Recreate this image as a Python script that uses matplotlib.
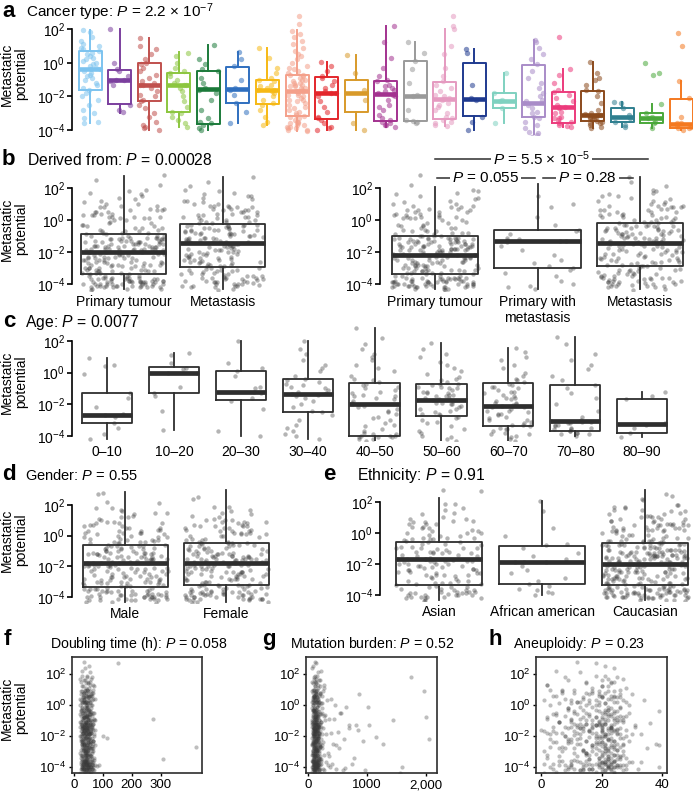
import numpy as np
import matplotlib
matplotlib.use("Agg")
import matplotlib.pyplot as plt
from matplotlib.ticker import NullLocator

plt.rcParams['font.family'] = ['Liberation Sans', 'DejaVu Sans']
plt.rcParams['mathtext.fontset'] = 'custom'
plt.rcParams['mathtext.rm'] = 'Liberation Sans'
plt.rcParams['mathtext.it'] = 'Liberation Sans:italic'
plt.rcParams['mathtext.bf'] = 'Liberation Sans:bold'

W, H = 693, 796

# ---------------- data: log10(metastatic potential) ----------------
CANCER_COLORS = ['#7cc3ef', '#7b3f9e', '#c0504d', '#8cc63f', '#1b7a3a', '#2f6fbf', '#f6b915',
                 '#f4a08a', '#e3262b', '#d89a2a', '#a3328f', '#9a9a9a', '#e59ac0', '#1f3a8f',
                 '#7fd1c0', '#a98cc8', '#ec3b7c', '#8b4a1c', '#2f7f8f', '#4aa83a', '#f47920']
# (whisker low, q1, median, q3, whisker high)
CANCER_BOX = [(-3.6, -1.62, -0.37, 0.69, 1.95), (-2.98, -2.45, -1.03, -0.43, 2.0),
              (-4.0, -2.27, -1.3, 0.0, 1.47), (-3.8, -2.9, -1.3, -0.6, 0.64),
              (-4.0, -3.64, -1.56, -0.5, 1.05), (-3.6, -2.4, -1.56, -0.25, 0.64),
              (-3.7, -2.45, -1.6, -1.0, 0.87), (-4.05, -3.16, -1.68, -0.73, 1.94),
              (-4.0, -3.34, -1.8, -0.85, 0.05), (-4.0, -2.93, -1.8, -1.03, 0.46),
              (-3.8, -3.45, -1.86, -1.1, 2.2), (-3.6, -3.45, -1.97, 0.1, 1.2),
              (-3.75, -3.34, -2.15, -1.14, 2.0), (-4.0, -3.16, -2.15, 0.0, 0.8),
              (-3.6, -2.7, -2.27, -1.8, -0.6), (-4.4, -3.22, -2.39, -0.14, 1.35),
              (-3.8, -3.57, -2.63, -1.74, -0.37), (-3.9, -3.45, -3.1, -1.68, 0.05),
              (-3.8, -3.5, -3.22, -2.7, -2.33), (-3.9, -3.6, -3.28, -2.98, -2.45),
              (-4.0, -3.9, -3.64, -2.15, -1.08)]
CANCER_POINTS = [
    [1.95, 1.8, 1.5, 1.3, 1.1, 1.0, 0.9, 0.8, 0.7, 0.6, 0.5, 0.4, 0.3, 0.2, 0.1, 0.0, -0.1, -0.2, -0.3, -0.35,
     -0.4, -0.5, -0.6, -0.7, -0.8, -0.9, -1.0, -1.2, -1.3, -1.5, -1.6, -1.8, -2.0, -2.2, -2.5, -2.8, -3.0, -3.3, -3.5, -3.6],
    [2.0, 0.0, -0.4, -0.5, -0.8, -1.0, -1.05, -1.1, -1.3, -2.5, -2.8, -2.95],
    [1.45, 1.0, 0.8, 0.5, 0.2, 0.0, -0.1, -0.3, -0.5, -0.7, -0.9, -1.1, -1.2, -1.3, -1.35, -1.5, -1.7, -1.9, -2.0, -2.2,
     -2.3, -2.5, -2.7, -3.0, -3.2, -3.5, -3.7, -3.8, -3.9, -4.0],
    [0.6, 0.4, 0.0, -0.3, -0.5, -0.6, -0.8, -1.0, -1.2, -1.3, -1.3, -1.5, -1.7, -2.0, -2.3, -2.6, -2.9, -3.0, -3.2, -3.4, -3.6, -3.8],
    [1.05, 0.2, -0.1, -0.4, -0.5, -0.9, -1.2, -1.5, -1.6, -1.8, -2.2, -2.8, -3.3, -3.5, -3.6, -3.7, -3.9, -4.0],
    [0.64, 0.2, -0.2, -1.0, -1.5, -1.6, -1.9, -2.4, -2.9, -3.6],
    [0.87, 0.3, -0.3, -0.6, -0.9, -1.0, -1.1, -1.3, -1.4, -1.5, -1.6, -1.6, -1.7, -1.8, -2.0, -2.2, -2.4, -2.5, -2.8, -3.2, -3.5, -3.7],
    [2.77, 2.3, 1.9, 1.7, 1.5, 1.3, 1.1, 0.9, 0.7, 0.5, 0.4, 0.2, 0.0, -0.2, -0.3, -0.4, -0.5, -0.6, -0.7, -0.75,
     -0.8, -0.9, -1.0, -1.0, -1.1, -1.2, -1.2, -1.3, -1.4, -1.4, -1.5, -1.5, -1.6, -1.65, -1.7, -1.7, -1.8, -1.9, -1.9, -2.0,
     -2.1, -2.2, -2.3, -2.4, -2.5, -2.6, -2.7, -2.8, -2.9, -3.0, -3.1, -3.15, -3.2, -3.3, -3.4, -3.5, -3.5, -3.6, -3.7, -3.7,
     -3.8, -3.8, -3.9, -3.9, -4.0, -4.0, -4.05, -3.6, -2.2, -1.3],
    [0.05, -0.2, -0.5, -0.8, -0.9, -1.1, -1.3, -1.5, -1.7, -1.8, -1.8, -2.0, -2.3, -2.6, -2.9, -3.2, -3.3, -3.4, -3.6, -3.8, -3.9, -4.0],
    [0.46, -0.6, -1.6, -2.2, -3.6, -4.0],
    [2.2, 1.2, 0.3, -0.3, -0.8, -1.0, -1.1, -1.3, -1.5, -1.6, -1.7, -1.8, -1.85, -1.9, -2.0, -2.2, -2.5, -2.8, -3.1, -3.3,
     -3.4, -3.5, -3.6, -3.7, -3.7, -3.8, -2.6, -1.4],
    [1.2, 0.6, 0.1, -0.4, -1.2, -1.9, -2.0, -2.8, -3.4, -3.45, -3.5, -3.6],
    [2.75, 2.2, 2.0, 1.0, 0.5, -0.3, -0.8, -1.1, -1.3, -1.5, -1.7, -1.9, -2.0, -2.1, -2.15, -2.2, -2.4, -2.6, -2.8, -3.0,
     -3.2, -3.3, -3.4, -3.5, -3.6, -3.7, -3.75, -2.5],
    [0.8, 0.6, -1.3, -2.1, -2.2, -3.2, -3.5, -4.0],
    [-0.6, -1.8, -2.2, -2.3, -2.7, -3.6],
    [1.35, 1.2, 0.9, 0.5, 0.2, -0.1, -0.5, -0.9, -1.2, -1.5, -1.8, -2.0, -2.2, -2.3, -2.4, -2.5, -2.7, -2.9, -3.0, -3.2,
     -3.3, -3.5, -3.7, -3.9, -4.1, -4.2, -4.3, -4.4],
    [1.5, -0.37, -0.7, -1.2, -1.6, -1.75, -1.9, -2.1, -2.3, -2.5, -2.6, -2.65, -2.7, -2.9, -3.0, -3.2, -3.3, -3.4, -3.5, -3.6,
     -3.7, -3.75, -3.8, -3.3],
    [0.05, -0.6, -0.9, -1.0, -1.3, -1.6, -1.7, -2.0, -2.4, -2.8, -3.0, -3.05, -3.1, -3.1, -3.15, -3.2, -3.2, -3.3, -3.3, -3.4,
     -3.45, -3.5, -3.6, -3.6, -3.7, -3.8, -3.9, -3.1],
    [-2.33, -2.4, -2.7, -3.1, -3.3, -3.5, -3.7, -3.8],
    [0.0, -0.6, -0.7, -2.45, -3.0, -3.2, -3.3, -3.5, -3.6, -3.9],
    [1.78, 1.0, -1.08, -2.1, -3.2, -3.6, -3.6, -3.7, -3.8, -3.9, -3.9, -4.0],
]

PRIMARY = [2.8, 2.5, 2.2, 1.9, 1.8, 1.6, 1.5, 1.4, 1.3, 1.2, 1.1, 1.0, 0.9, 0.9, 0.8, 0.7, 0.7, 0.6, 0.6, 0.5,
           0.5, 0.4, 0.4, 0.3, 0.3, 0.3, 0.2, 0.2, 0.2, 0.1, 0.1, 0.1, 0.0, 0.0, 1.7, 1.0, 0.8, 0.5, 0.2, 0.6,
           -0.1, -0.2, -0.2, -0.3, -0.3, -0.4, -0.4, -0.5, -0.5, -0.5, -0.6, -0.6, -0.7, -0.7, -0.7, -0.8, -0.8, -0.8, -0.9, -0.9,
           -1.0, -1.0, -1.1, -1.1, -1.1, -1.2, -1.2, -1.2, -1.3, -1.3, -1.3, -1.4, -1.4, -1.4, -1.5, -1.5, -1.5, -1.5, -1.6, -1.6,
           -1.6, -1.7, -1.7, -1.7, -1.8, -1.8, -1.8, -1.9, -1.9, -1.9, -2.0, -2.0, -1.0, -1.2, -1.4, -1.6, -1.8, -1.9, -1.1, -1.3,
           -1.5, -1.7, -1.9, -2.0, -1.0, -1.2, -1.4, -1.6, -1.8, -1.3, -1.5, -1.7, -1.9, -1.1, -1.4, -1.6, -1.8, -2.0, -1.2, -1.5,
           -2.1, -2.1, -2.2, -2.2, -2.3, -2.3, -2.4, -2.4, -2.5, -2.5, -2.6, -2.6, -2.7, -2.7, -2.8, -2.8, -2.9, -2.9, -3.0, -3.0,
           -3.1, -3.1, -3.2, -3.2, -3.3, -3.3, -3.4, -2.1, -2.3, -2.5, -2.7, -2.9, -3.1, -3.3, -2.2, -2.4, -2.6, -2.8, -3.0, -3.2,
           -2.1, -2.4, -2.7, -3.0, -3.3, -2.2, -2.5, -2.8, -3.1, -3.4, -2.3, -2.6, -2.9, -3.2, -2.0, -2.5, -3.0, -2.4, -2.8, -3.2,
           -3.5, -3.5, -3.6, -3.6, -3.6, -3.7, -3.7, -3.7, -3.7, -3.8, -3.8, -3.8, -3.8, -3.8, -3.9, -3.9, -3.9, -3.9, -3.9, -4.0,
           -4.0, -4.0, -4.0, -4.0, -4.0, -4.1, -4.1, -4.1, -4.1, -4.1, -4.2, -4.2, -4.2, -4.2, -4.3, -4.3, -4.4, -3.5, -3.6, -3.7,
           -3.8, -3.9, -4.0, -4.1, -4.2, -3.6, -3.8, -4.0, -4.2, -3.7, -3.9, -4.1, -3.5, -3.8, -4.0, -4.3, -3.6, -3.9, -4.1, -4.0]
METASTASIS = [2.7, 2.4, 2.1, 1.9, 1.8, 1.7, 1.6, 1.5, 1.4, 1.3, 1.2, 1.1, 1.0, 1.0, 0.9, 0.9, 0.8, 0.8, 0.7, 0.7,
              0.6, 0.6, 0.5, 0.5, 0.4, 0.4, 0.3, 0.3, 0.2, 0.2, 0.1, 0.1, 0.0, 0.0, -0.1, -0.1, -0.2, -0.2, 1.2, 0.8,
              0.5, 0.2, -0.1, 0.6, 0.3, 0.0, 1.5, 0.9,
              -0.3, -0.3, -0.4, -0.4, -0.5, -0.5, -0.6, -0.6, -0.7, -0.7, -0.8, -0.8, -0.9, -0.9, -1.0, -1.0, -1.1, -1.1, -1.2, -1.2,
              -1.3, -1.3, -1.4, -1.4, -0.3, -0.5, -0.7, -0.9, -1.1, -1.3, -0.4, -0.6, -0.8, -1.0, -1.2, -1.4, -0.35, -0.55, -0.75, -0.95,
              -1.15, -1.35, -0.45, -0.65, -0.85, -1.05, -1.25,
              -1.5, -1.5, -1.6, -1.6, -1.7, -1.7, -1.8, -1.8, -1.9, -1.9, -2.0, -2.0, -2.1, -2.1, -2.2, -2.2, -2.3, -2.3, -2.4, -2.4,
              -2.5, -2.5, -2.6, -2.6, -2.7, -2.7, -2.8, -2.8, -2.9, -2.9, -1.55, -1.75, -1.95, -2.15, -2.35, -2.55, -2.75, -1.65, -1.85, -2.05,
              -2.25, -2.45, -2.65, -2.85, -1.5, -2.0, -2.5,
              -3.0, -3.0, -3.1, -3.1, -3.2, -3.2, -3.3, -3.3, -3.4, -3.4, -3.5, -3.5, -3.6, -3.6, -3.7, -3.7, -3.8, -3.8, -3.9, -3.9,
              -4.0, -4.0, -4.1, -4.1, -4.2, -4.2, -4.3, -4.4, -3.05, -3.25, -3.45, -3.65, -3.85, -4.05, -3.15, -3.35, -3.55, -3.75, -3.95, -4.15,
              -3.6, -3.8, -4.0, -3.9, -4.1, -3.7, -4.0, -3.5]
PRIMARY_WITH_MET = [2.25, 1.5, 1.0, 0.8, 0.2, -0.3, -0.6, -0.7, -0.9, -1.1, -1.2, -1.25, -1.3, -1.3, -1.4,
                    -1.6, -1.9, -2.2, -2.5, -2.7, -2.9, -3.0, -3.1, -3.3, -3.5, -3.8, -4.0, -4.1, -4.2, -4.3]
AFRICAN_AMERICAN = [2.06, 1.4, 0.3, -0.2, -0.7, -0.8, -1.0, -1.3, -1.5, -1.7, -1.85, -1.9, -1.9, -2.1, -2.4, -2.6,
                    -2.9, -3.1, -3.3, -3.4, -3.6, -3.7, -3.8, -3.9, -4.0]

DERIVED_BOX = [(-4.3, -3.375, -2.0, -0.875, 2.75), (-4.3, -2.94, -1.44, -0.25, 2.7)]
DERIVED3_BOX = [(-4.3, -3.4, -2.19, -1.0, 2.06), (-4.3, -3.0, -1.3, -0.63, 2.25), (-4.3, -2.9, -1.44, -0.2, 2.7)]

AGE_LABELS = ['0\u201310', '10\u201320', '20\u201330', '30\u201340', '40\u201350', '50\u201360', '60\u201370', '70\u201380', '80\u201390']
AGE_BOX = [(-4.2, -3.2, -2.7, -1.3, 0.92), (-3.65, -1.3, -0.03, 0.35, 1.24), (-4.0, -1.75, -1.24, 0.1, 2.0),
           (-4.2, -2.5, -1.37, -0.4, 2.0), (-4.3, -4.0, -2.0, -0.67, 2.8), (-4.3, -2.76, -1.75, -0.73, 1.87),
           (-4.3, -3.4, -2.1, -0.67, 1.55), (-4.0, -3.7, -3.08, -0.8, 2.25), (-4.1, -3.8, -3.27, -1.68, -1.24)]
AGE_POINTS = [
    [0.92, 0.5, 0.4, -0.1, -1.3, -1.6, -2.2, -2.6, -2.7, -2.8, -3.2, -3.5, -3.9, -4.2],
    [1.24, 1.1, 0.6, 0.3, 0.25, 0.0, -0.05, -0.9, -1.3, -1.5, -2.4, -3.65],
    [2.0, 0.6, 0.3, 0.1, -0.2, -0.9, -1.0, -1.2, -1.3, -1.6, -1.8, -2.3, -3.7, -4.0],
    [2.0, 1.5, 1.2, 0.8, 0.5, 0.3, 0.1, -0.2, -0.4, -0.5, -0.6, -0.7, -0.8, -0.9, -1.0, -1.1, -1.2, -1.3, -1.35, -1.4,
     -1.5, -1.6, -1.8, -2.0, -2.2, -2.4, -2.5, -2.7, -3.0, -3.3, -3.5, -3.7, -3.9, -4.0, -4.2],
    [2.8, 2.2, 1.8, 1.5, 1.2, 1.0, 0.8, 0.5, 0.3, 0.1, -0.2, -0.4, -0.6, -0.7, -0.8, -0.9, -1.0, -1.1, -1.2, -1.3,
     -1.4, -1.5, -1.6, -1.7, -1.8, -1.9, -2.0, -2.1, -2.2, -2.3, -2.4, -2.6, -2.8, -3.0, -3.2, -3.4, -3.6, -3.8, -3.9, -4.0,
     -4.0, -4.1, -4.1, -4.2, -4.2, -4.3, -3.7, -3.3, -2.9, -1.5, -0.5, -3.9, -4.0, -4.1, -2.5],
    [1.87, 1.5, 1.2, 1.0, 0.7, 0.5, 0.3, 0.1, -0.1, -0.3, -0.5, -0.6, -0.7, -0.75, -0.8, -0.9, -1.0, -1.0, -1.1, -1.2,
     -1.2, -1.3, -1.4, -1.4, -1.5, -1.6, -1.6, -1.7, -1.75, -1.8, -1.9, -2.0, -2.0, -2.1, -2.2, -2.3, -2.4, -2.5, -2.6, -2.7,
     -2.8, -2.9, -3.0, -3.2, -3.4, -3.6, -3.8, -4.0, -4.1, -4.2, -4.3, -1.3, -0.9, -2.3, -1.5, -3.1, -3.7, -0.4, -2.6, -1.9],
    [1.55, 1.3, 1.0, 0.8, 0.5, 0.3, 0.0, -0.2, -0.4, -0.6, -0.7, -0.8, -0.9, -1.0, -1.1, -1.2, -1.3, -1.4, -1.5, -1.6,
     -1.7, -1.8, -1.9, -2.0, -2.05, -2.1, -2.2, -2.3, -2.4, -2.5, -2.6, -2.7, -2.8, -2.9, -3.0, -3.1, -3.2, -3.3, -3.4, -3.5,
     -3.6, -3.7, -3.8, -3.9, -4.0, -4.1, -4.2, -4.3, -1.2, -1.6, -2.4, -3.0, -3.6, -0.5, -1.9, -2.6, -3.3, -3.9, -0.9, -2.2],
    [2.25, 1.8, 1.2, 0.8, 0.5, 0.2, -0.2, -0.5, -0.8, -1.0, -1.3, -1.6, -2.0, -2.4, -2.8, -3.0, -3.05, -3.1, -3.15, -3.2,
     -3.3, -3.3, -3.4, -3.5, -3.5, -3.6, -3.6, -3.7, -3.7, -3.8, -3.8, -3.9, -3.9, -4.0, -3.2],
    [-1.24, -1.5, -1.7, -3.2, -3.3, -3.5, -3.8, -4.1],
]

GENDER_BOX = [(-4.3, -3.34, -1.78, -0.6, 2.85), (-4.3, -3.2, -1.78, -0.5, 2.95)]
ETHNIC_BOX = [(-4.3, -3.35, -1.7, -0.6, 2.26), (-4.0, -3.3, -1.87, -0.84, 2.06), (-4.3, -3.35, -2.0, -0.65, 2.8)]

DOUBLING_TIME = [
    34, 52, 27, 45, 61, 38, 23, 49, 56, 31, 42, 67, 29, 47, 36, 58, 25, 44, 53, 33,
    40, 71, 22, 48, 35, 63, 30, 55, 41, 26, 50, 37, 59, 44, 21, 46, 65, 32, 39, 54,
    28, 43, 60, 35, 24, 51, 47, 69, 33, 38, 57, 20, 45, 62, 30, 42, 36, 53, 26, 48,
    74, 31, 40, 56, 23, 44, 37, 66, 29, 52, 41, 34, 58, 19, 47, 39, 63, 27, 50, 43,
    35, 60, 25, 46, 32, 55, 42, 70, 28, 38, 49, 22, 57, 36, 44, 64, 30, 51, 40, 33,
    45, 27, 53, 39, 68, 24, 48, 35, 59, 41, 31, 54, 46, 21, 62, 37, 43, 29, 56, 34,
    115, 42, 30, 51, 38, 64, 26, 47, 55, 33, 40, 72, 28, 45, 36, 58, 23, 49, 41, 61,
    37, 53, 24, 44, 60, 32, 46, 39, 67, 29, 50, 35, 42, 57, 25, 48, 34, 63, 38, 45,
    54, 30, 41, 65, 27, 47, 36, 52, 22, 43, 59, 33, 48, 39, 70, 26, 45, 56, 31, 40,
    309, 46, 35, 58, 28, 42, 63, 37, 49, 24, 53, 40, 32, 61, 44, 27, 51, 38, 66, 34,
    43, 57, 29, 48, 36, 62, 25, 45, 54, 33, 41, 68, 30, 50, 39, 59, 22, 47, 37, 55,
    31, 46, 64, 27, 52, 40, 35, 58, 44, 23, 49, 36, 61, 42, 29, 54, 38, 71, 33, 47,
    153, 39, 55, 26, 44, 60, 34, 48, 41, 67, 28, 52, 37, 45, 57, 24, 43, 63, 32, 50,
    40, 59, 30, 47, 36, 65, 25, 53, 42, 34, 56, 46, 21, 61, 38, 49, 29, 44, 69, 35,
    52, 28, 45, 62, 33, 41, 57, 37, 48, 26, 54, 39, 66, 31, 46, 58, 43, 24, 50, 36,
    272, 44, 60, 32, 49, 38, 55, 27, 47, 63, 35, 42, 53, 29, 45, 68, 40, 57, 23, 51,
    37, 48, 65, 30, 43, 56, 34, 50, 41, 26, 59, 45, 33, 62, 39, 52, 28, 46, 72, 36,
    47, 31, 58, 40, 53, 25, 44, 61, 35, 49, 38, 67, 29, 55, 42, 33, 64, 46, 27, 51,
    422, 39, 56, 43, 32, 60, 48, 36, 52, 24, 45, 66, 34, 57, 41, 29, 50, 63, 38, 44,
    101, 54, 30, 47, 62, 37, 43, 27, 58, 49, 35, 69, 40, 55, 31, 46, 64, 33, 51, 42,
    85, 36, 59, 45, 28, 52, 41, 65, 34, 48, 38, 57, 25, 44, 61, 32, 50, 39, 70, 46,
    78, 43, 33, 56, 47, 30, 63, 40, 53, 26, 45, 58, 35, 49, 42, 67, 31, 54, 37, 48]
MUTATION_BURDEN = [
    120, 85, 210, 150, 95, 180, 70, 135, 260, 110, 160, 90, 1980, 140, 75, 195, 125, 100, 230, 155,
    105, 170, 80, 145, 320, 115, 190, 65, 130, 215, 98, 165, 88, 450, 138, 72, 205, 118, 175, 92,
    150, 60, 240, 128, 102, 185, 78, 560, 142, 112, 198, 84, 156, 122, 270, 96, 168, 74, 134, 108,
    1450, 178, 90, 146, 220, 116, 82, 160, 126, 700, 100, 188, 70, 136, 250, 110, 172, 94, 152, 120,
    86, 200, 132, 104, 380, 164, 76, 144, 114, 230, 92, 176, 124, 66, 158, 850, 138, 98, 210, 118,
    148, 80, 182, 106, 290, 130, 88, 166, 120, 1040, 96, 154, 72, 140, 224, 112, 190, 84, 134, 102,
    162, 94, 2060, 128, 78, 174, 116, 246, 100, 150, 68, 136, 196, 108, 520, 90, 160, 124, 82, 142,
    110, 186, 74, 152, 350, 118, 98, 170, 132, 64, 208, 144, 86, 126, 610, 104, 180, 92, 138, 260,
    122, 76, 158, 112, 194, 96, 1280, 140, 84, 168, 106, 234, 130, 70, 150, 420, 118, 188, 100, 146,
    90, 176, 128, 62, 216, 114, 154, 80, 300, 136, 104, 182, 94, 740, 126, 72, 162, 110, 204, 148,
    1600, 120, 88, 172, 134, 98, 244, 116, 78, 156, 960, 108, 190, 92, 142, 68, 200, 130, 86, 164,
    112, 340, 150, 102, 184, 76, 138, 124, 590, 96, 166, 114, 82, 222, 132, 106, 176, 90, 480, 146,
    128, 70, 158, 118, 1750, 100, 194, 136, 84, 174, 110, 270, 94, 152, 126, 66, 206, 120, 870, 140,
    104, 186, 80, 148, 116, 390, 96, 162, 132, 74, 228, 112, 170, 88, 144, 650, 122, 100, 196, 134,
    92, 154, 1020, 126, 72, 180, 108, 250, 138, 86, 160, 118, 540, 98, 212, 130, 78, 168, 114, 146,
    120, 360, 94, 178, 132, 64, 156, 110, 820, 100, 190, 142, 82, 226, 124, 440, 106, 166, 90, 138,
    116, 70, 202, 146, 98, 170, 2000, 128, 88, 160, 112, 280, 134, 76, 184, 104, 690, 150, 94, 122,
    140, 84, 176, 118, 310, 102, 158, 130, 68, 214, 144, 96, 940, 124, 164, 80, 192, 108, 470, 136,
    100, 182, 126, 74, 154, 114, 500, 92, 170, 138, 86, 236, 120, 104, 1150, 148, 78, 198, 130, 96,
    162, 110, 88, 186, 142, 330, 118, 72, 158, 106, 780, 134, 94, 208, 124, 82, 174, 112, 400, 150,
    98, 166, 132, 66, 196, 116, 260, 140, 90, 1560, 128, 104, 180, 76, 152, 630, 120, 92, 172, 136,
    108, 80, 154, 126, 370, 100, 188, 144, 86, 220, 118, 96, 430, 134, 70, 164, 112, 1000, 148, 102]
ANEUPLOIDY = [
    12, 21, 5, 18, 25, 9, 23, 15, 2, 20, 28, 7, 17, 22, 11, 26, 19, 4, 24, 14,
    20, 8, 23, 16, 27, 1, 19, 13, 25, 10, 21, 6, 18, 29, 22, 3, 15, 24, 12, 20,
    17, 26, 9, 22, 14, 39, 19, 5, 24, 11, 21, 16, 28, 8, 23, 18, 2, 25, 13, 20,
    22, 10, 19, 27, 6, 21, 15, 24, 12, 18, 31, 4, 23, 17, 9, 26, 20, 14, 22, 0,
    16, 24, 11, 20, 7, 25, 18, 13, 22, 3, 19, 28, 15, 21, 10, 23, 17, 33, 6, 20,
    23, 14, 21, 8, 26, 19, 12, 24, 2, 18, 22, 16, 30, 10, 20, 25, 5, 21, 17, 13,
    19, 27, 9, 22, 15, 24, 4, 20, 38, 12, 23, 17, 26, 7, 21, 18, 14, 25, 1, 22,
    11, 21, 24, 16, 6, 20, 28, 13, 23, 19, 3, 25, 15, 22, 10, 18, 27, 8, 21, 24,
    20, 5, 23, 17, 26, 12, 21, 35, 15, 19, 9, 24, 22, 2, 18, 25, 14, 20, 11, 27,
    25, 16, 7, 22, 19, 13, 24, 29, 20, 4, 23, 18, 10, 21, 26, 15, 6, 22, 17, 24,
    14, 22, 19, 3, 25, 20, 11, 23, 16, 32, 8, 21, 27, 13, 24, 18, 1, 22, 15, 20,
    21, 10, 26, 17, 23, 6, 19, 24, 14, 21, 28, 9, 22, 16, 39, 20, 12, 25, 4, 23,
    18, 24, 13, 21, 8, 27, 20, 15, 23, 2, 22, 17, 26, 11, 19, 24, 7, 21, 30, 16,
    23, 5, 20, 25, 14, 22, 18, 10, 24, 28, 16, 21, 3, 19, 26, 13, 23, 9, 20, 17,
    26, 12, 22, 19, 34, 15, 24, 7, 21, 18, 25, 11, 20, 29, 4, 23, 16, 22, 14, 27,
    10, 21, 24, 17, 6, 25, 20, 13, 23, 19, 31, 8, 22, 15, 26, 2, 21, 18, 24, 12,
    20, 27, 15, 23, 9, 22, 18, 25, 36, 14, 21, 5, 24, 19, 11, 23, 17, 28, 20, 1,
    16, 23, 12, 21, 25, 8, 20, 18, 26, 3, 22, 15, 24, 10, 19, 27, 13, 21, 39, 17,
    24, 6, 22, 19, 14, 25, 20, 11, 23, 29, 17, 21, 4, 26, 16, 22, 9, 20, 24, 13,
    21, 18, 27, 7, 23, 15, 20, 25, 12, 22, 2, 19, 26, 16, 24, 10, 21, 30, 14, 23,
    19, 25, 10, 22, 17, 28, 13, 21, 5, 24, 20, 15, 23, 33, 8, 22, 18, 26, 11, 20,
    22, 14, 24, 1, 20, 27, 16, 23, 9, 21, 25, 12, 19, 35, 6, 22, 17, 24, 13, 21]

# all cell lines (same metastatic potential values reused by grouping)
ALL_LINES = PRIMARY + METASTASIS
MALE = ALL_LINES[0::2]
FEMALE = ALL_LINES[1::2]
ASIAN = ALL_LINES[0::3]
CAUCASIAN = ALL_LINES[1::3] + ALL_LINES[2::3]

GREY = '#3a3a3a'
BOXC = '#2e2e2e'
TITLE_FS = 11.3
rng = np.random.default_rng(11)  # horizontal jitter only

fig = plt.figure(figsize=(W / 100, H / 100), dpi=100)


def add_ax(x0, y0, x1, y1):
    return fig.add_axes([x0 / W, 1 - y1 / H, (x1 - x0) / W, (y1 - y0) / H])


def box_axes(ax, xlim, ylim):
    ax.set_facecolor('none')
    ax.set_yscale('log')
    ax.set_xlim(*xlim)
    ax.set_ylim(10 ** ylim[0], 10 ** ylim[1])
    for s in ['top', 'right', 'bottom']:
        ax.spines[s].set_visible(False)
    ax.spines['left'].set_bounds(1e-4, 1e2)
    ax.spines['left'].set_linewidth(1.2)
    ax.set_yticks([1e-4, 1e-2, 1, 1e2])
    ax.yaxis.set_minor_locator(NullLocator())
    ax.tick_params(axis='y', length=3.5, width=1.2, labelsize=10, pad=1.5)
    ax.tick_params(axis='x', length=0, labelsize=10, pad=3)


def draw_boxes(ax, stats, colors, width, box_lw, med_lw):
    for i, (st, c) in enumerate(zip(stats, colors)):
        lo, q1, med, q3, hi = st
        d = dict(whislo=10 ** lo, q1=10 ** q1, med=10 ** med, q3=10 ** q3, whishi=10 ** hi, fliers=[])
        ax.bxp([d], positions=[i + 1], widths=width, showcaps=False, showfliers=False,
               manage_ticks=False, zorder=2,
               boxprops=dict(color=c, linewidth=box_lw),
               whiskerprops=dict(color=c, linewidth=box_lw),
               medianprops=dict(color=c, linewidth=med_lw, solid_capstyle='butt'))


def draw_points(ax, groups, colors, half, size, alpha, z):
    for i, (vals, c) in enumerate(zip(groups, colors)):
        v = np.array(vals)
        x = i + 1 + rng.uniform(-half, half, len(v))
        ax.scatter(x, 10 ** v, s=size, color=c, alpha=alpha, linewidths=0, zorder=z)


def ylabel(y):
    fig.text(14 / W, 1 - y / H, 'Metastatic\npotential', rotation=90, ha='center', va='center',
             fontsize=10, linespacing=1.05)


def label(x, y, letter, title, tx=26, fs=TITLE_FS):
    fig.text(x / W, 1 - y / H, letter, fontsize=16, fontweight='bold', va='baseline')
    fig.text(tx / W, 1 - y / H, title, fontsize=fs, va='baseline')


# ---------------- a ----------------
ax = add_ax(72, 12, 693, 135)
box_axes(ax, (0.39, 21.39), (-4.29, 3.01))
draw_points(ax, CANCER_POINTS, CANCER_COLORS, 0.34, 15, 0.55, 3)
draw_boxes(ax, CANCER_BOX, CANCER_COLORS, 0.78, 1.4, 3.3)
ax.set_xticks([])
ylabel(74)
label(2, 17, 'a', r'Cancer type: $P$ = 2.2 $\times$ 10$^{-7}$', fs=11)

# ---------------- b ----------------
ax = add_ax(72, 170, 285, 291)
box_axes(ax, (0.48, 2.63), (-4.44, 3.125))
draw_points(ax, [PRIMARY, METASTASIS], [GREY] * 2, 0.42, 10, 0.38, 1)
draw_boxes(ax, DERIVED_BOX, [BOXC] * 2, 0.86, 1.3, 3.4)
ax.set_xticks([1, 2])
ax.set_xticklabels(['Primary tumour', 'Metastasis'])
ylabel(229)
label(2, 165, 'b', r'Derived from: $P$ = 0.00028', tx=27)

ax = add_ax(380, 170, 693, 291)
box_axes(ax, (0.463, 3.517), (-4.44, 3.125))
draw_points(ax, [PRIMARY, PRIMARY_WITH_MET, METASTASIS], [GREY] * 3, 0.42, 10, 0.38, 1)
draw_boxes(ax, DERIVED3_BOX, [BOXC] * 3, 0.84, 1.3, 3.4)
ax.set_xticks([1, 2, 3])
ax.set_xticklabels(['Primary tumour', 'Primary with\nmetastasis', 'Metastasis'])
# significance brackets
for x0, x1, yv, txt, xt in [(1.0, 3.08, 3.81, r'$P$ = 5.5 $\times$ 10$^{-5}$', 2.04),
                            (1.02, 1.975, 2.625, r'$P$ = 0.055', 1.49),
                            (2.053, 2.93, 2.625, r'$P$ = 0.28', 2.49)]:
    ax.plot([x0, x1], [10 ** yv, 10 ** yv], color=BOXC, lw=1.1, clip_on=False, zorder=4)
    ax.text(xt, 10 ** yv, txt, ha='center', va='center', fontsize=11, zorder=5, clip_on=False,
            bbox=dict(facecolor='white', edgecolor='none', pad=1.5))

# ---------------- c ----------------
ax = add_ax(72, 326, 693, 441)
box_axes(ax, (0.477, 9.76), (-4.33, 2.95))
draw_points(ax, AGE_POINTS, [GREY] * 9, 0.36, 10, 0.38, 1)
draw_boxes(ax, AGE_BOX, [BOXC] * 9, 0.75, 1.3, 3.4)
ax.set_xticks(range(1, 10))
ax.set_xticklabels(AGE_LABELS)
ylabel(382)
label(3, 327, 'c', r'Age: $P$ = 0.0077', tx=25)

# ---------------- d ----------------
ax = add_ax(72, 488, 285, 603)
box_axes(ax, (0.475, 2.58), (-4.39, 3.11))
draw_points(ax, [MALE, FEMALE], [GREY] * 2, 0.42, 10, 0.38, 1)
draw_boxes(ax, GENDER_BOX, [BOXC] * 2, 0.84, 1.3, 3.4)
ax.set_xticks([1, 2])
ax.set_xticklabels(['Male', 'Female'])
ylabel(540)
label(2, 480, 'd', r'Gender: $P$ = 0.55', tx=25, fs=10.5)

# ---------------- e ----------------
ax = add_ax(380, 486, 693, 601)
box_axes(ax, (0.427, 3.466), (-4.39, 3.03))
draw_points(ax, [ASIAN, AFRICAN_AMERICAN, CAUCASIAN], [GREY] * 3, 0.42, 10, 0.38, 1)
draw_boxes(ax, ETHNIC_BOX, [BOXC] * 3, 0.84, 1.3, 3.4)
ax.set_xticks([1, 2, 3])
ax.set_xticklabels(['Asian', 'African american', 'Caucasian'])
label(323, 480, 'e', r'Ethnicity: $P$ = 0.91', tx=357)

# ---------------- f, g, h ----------------
scatter_panels = [
    ((72, 657, 202, 773), DOUBLING_TIME, (-7, 443), [0, 100, 200, 300], ['0', '100', '200', '300'],
     'f', r'Doubling time (h): $P$ = 0.058', 4, 50),
    ((306, 657, 437, 773), MUTATION_BURDEN, (-39, 2195), [0, 1000, 2000], ['0', '1000', '2,000'],
     'g', r'Mutation burden: $P$ = 0.52', 262, 290),
    ((536, 657, 667, 773), ANEUPLOIDY, (-1.65, 41.6), [0, 20, 40], ['0', '20', '40'],
     'h', r'Aneuploidy: $P$ = 0.23', 489, 513),
]
for rect, xs, xlim, xt, xtl, letter, title, lx, tx in scatter_panels:
    ax = add_ax(*rect)
    n = min(len(xs), len(ALL_LINES))
    ax.scatter(xs[:n], 10 ** np.array(ALL_LINES[:n]), s=9, color=GREY, alpha=0.33, linewidths=0)
    ax.set_yscale('log')
    ax.set_ylim(10 ** -4.39, 10 ** 3.1)
    ax.set_xlim(*xlim)
    ax.set_yticks([1e-4, 1e-2, 1, 1e2])
    ax.yaxis.set_minor_locator(NullLocator())
    ax.set_xticks(xt)
    ax.set_xticklabels(xtl)
    for s in ax.spines.values():
        s.set_linewidth(1.2)
        s.set_color(BOXC)
    ax.tick_params(axis='y', length=2.5, width=1, labelsize=9.5, pad=1.5)
    ax.tick_params(axis='x', length=2.5, width=1, labelsize=9.5, pad=2)
    fig.text(lx / W, 1 - 645 / H, letter, fontsize=16, fontweight='bold', va='baseline')
    fig.text(tx / W, 1 - 648 / H, title, fontsize=10.2, va='baseline')
ylabel(708)

fig.savefig('out.png', dpi=100)
